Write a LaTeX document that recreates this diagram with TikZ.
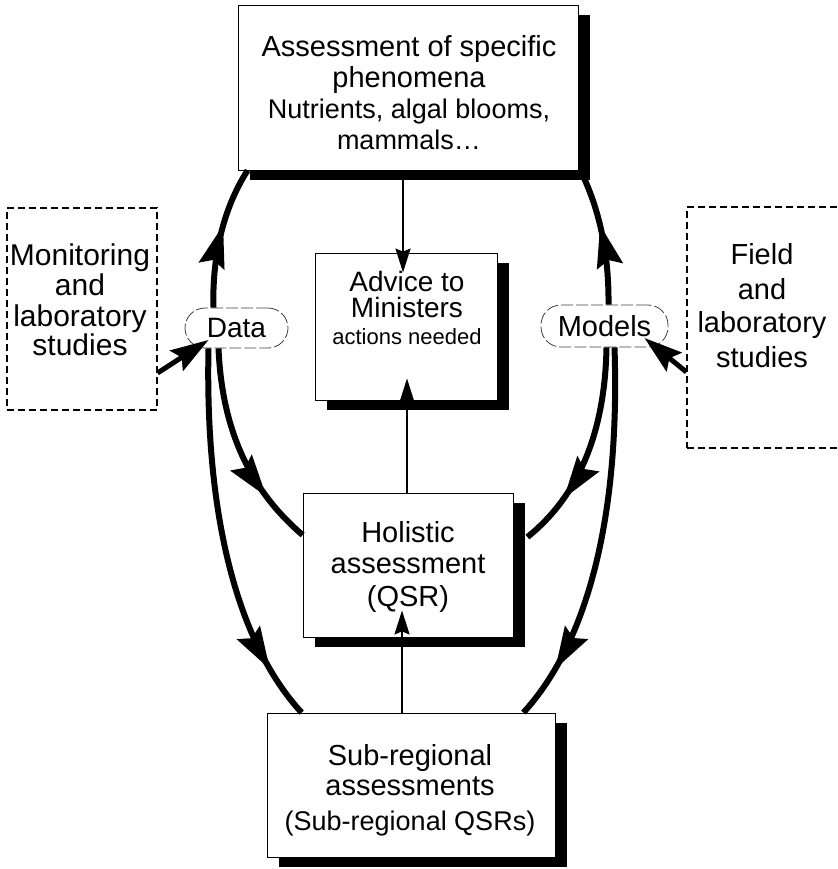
\documentclass[tikz,border=0pt]{standalone}
\usepackage{fontspec}
\setmainfont{Liberation Sans}
\usetikzlibrary{arrows.meta,decorations.markings,shadows}
\begin{document}
\begin{tikzpicture}[x=1pt,y=-1pt,
  box/.style={draw=black,line width=0.8pt,fill=white,inner sep=0pt,
    general shadow={fill=black,shadow xshift=12pt,shadow yshift=-10pt}},
  dbox/.style={draw=black,line width=1.1pt,dash pattern=on 7pt off 4pt,fill=white,inner sep=0pt},
  pill/.style={draw=black!75,line width=0.8pt,dash pattern=on 12pt off 3pt,rounded corners=20pt,fill=white,inner sep=0pt},
  txt/.style={align=center,inner sep=0pt},
  bigline/.style={line width=6pt},
  midarr/.style={postaction={decorate},decoration={markings,
    mark=at position #1 with {\arrow{Stealth[length=42pt,width=26pt,inset=6pt]}}}},
  feed/.style={line width=5pt,-{Stealth[length=38pt,width=24pt,inset=6pt]}},
  thinarr/.style={line width=2pt,-{Stealth[length=24pt,width=15pt,inset=3pt]}}
]
\useasboundingbox (0,0) rectangle (837,869);
\clip (0,0) rectangle (837,869);

% boxes
\node[box,minimum width=340pt,minimum height=165pt] (top) at (408,87.5) {};
\node[box,minimum width=182pt,minimum height=147pt] (advice) at (406,326.5) {};
\node[box,minimum width=210pt,minimum height=144pt] (holi) at (408,565) {};
\node[box,minimum width=288pt,minimum height=144pt] (sub) at (411,785) {};
\node[dbox,minimum width=150pt,minimum height=202pt] (lbox) at (82,309) {};
\node[dbox,minimum width=158pt,minimum height=241pt] (rbox) at (766,327.5) {};
\node[pill,minimum width=103pt,minimum height=40pt] (data) at (236.5,328) {};
\node[pill,minimum width=127pt,minimum height=42pt] (models) at (604.5,326) {};

% texts
\node[txt,font=\fontsize{29}{31}\selectfont] (toptext) at (409,93) {Assessment of specific\\
  phenomena\\
  \fontsize{27}{31}\selectfont Nutrients, algal blooms,\\
  \fontsize{27}{31}\selectfont mammals\ldots};
\node[txt,font=\fontsize{28}{26}\selectfont] (advtext) at (407,308) {Advice to\\
  Ministers\\[1pt]
  \fontsize{22}{26}\selectfont actions needed};
\node[txt,font=\fontsize{29}{31}\selectfont] (holitext) at (408,567) {Holistic\\
  assessment\\[2pt]
  (QSR)};
\node[txt,font=\fontsize{29}{30}\selectfont] (subtext) at (410,790) {Sub-regional\\
  assessments\\[5pt]
  \fontsize{27}{30}\selectfont (Sub-regional QSRs)};
\node[txt,font=\fontsize{30}{30}\selectfont] (ltext) at (80,300) {Monitoring\\
  and\\[1pt]
  laboratory\\[-1pt]
  studies};
\node[txt,font=\fontsize{29}{35}\selectfont] (rtext) at (762,306) {Field\\
  and\\[-2pt]
  laboratory\\
  studies};
\node[txt,font=\fontsize{28}{30}\selectfont] (datatext) at (data.center) {Data};
\node[txt,font=\fontsize{29}{30}\selectfont] (modtext) at (models.center) {Models};

% thick curved connectors (left)
\draw[bigline,midarr=0.58] ([xshift=-23pt]data.north) .. controls (212,260) and (222,210) .. ([xshift=10pt]top.south west);
\draw[bigline,midarr=0.75] ([xshift=-18pt]data.south) .. controls (222,430) and (250,490) .. ([yshift=30pt]holi.west);
\draw[bigline,midarr=0.86] ([xshift=-28pt]data.south) .. controls (205,510) and (235,640) .. ([xshift=35pt]sub.north west);
% thick curved connectors (right)
\draw[bigline,midarr=0.58] ([xshift=4pt]models.north) .. controls (609,255) and (600,210) .. ([xshift=2pt]top.south east);
\draw[bigline,midarr=0.75] ([xshift=2pt]models.south) .. controls (605,430) and (580,495) .. ([xshift=14pt,yshift=28pt]holi.east);
\draw[bigline,midarr=0.86] ([xshift=10pt]models.south) .. controls (620,510) and (590,640) .. ([xshift=-32pt]sub.north east);

% feeding arrows
\draw[feed] ([yshift=-64pt]lbox.east) -- ([xshift=-28pt,yshift=-12pt]data.center);
\draw[feed] ([yshift=-44.5pt]rbox.west) -- ([xshift=40pt,yshift=-12pt]models.center);

% thin arrows
\draw[thinarr] ([xshift=-5pt]top.south) -- ([xshift=-3pt,yshift=-20pt]advice.north);
\draw[thinarr] ([xshift=-1pt]holi.north) -- ([xshift=1pt,yshift=22pt]advice.south);
\draw[thinarr] ([xshift=-9pt]sub.north) -- ([xshift=-6pt,yshift=27pt]holi.south);
\end{tikzpicture}
\end{document}
